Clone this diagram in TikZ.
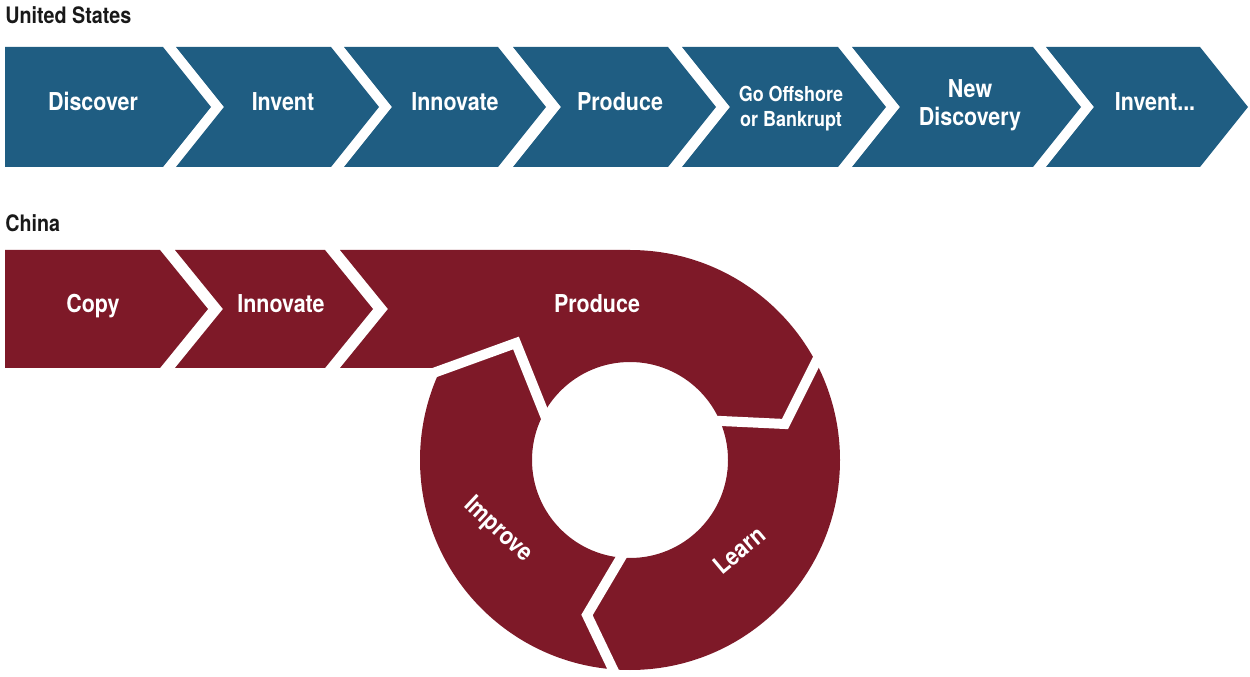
\documentclass[tikz,border=0pt]{standalone}
\usepackage{fontspec}
\setmainfont{TeX Gyre Heros}[FakeStretch=0.87]
\definecolor{usblue}{RGB}{31,93,130}
\definecolor{cnred}{RGB}{126,25,40}
\definecolor{headgray}{RGB}{25,25,25}

% chevron: #1 left x, #2 right x, #3 top y, #4 bottom y, #5 colour
\newcommand\ChevPath[5]{%
  \fill[#5] (#1,#3) -- (#2,#3) -- ({#2+48},{(#3+#4)/2}) -- (#2,#4) -- (#1,#4)
            -- ({#1+48},{(#3+#4)/2}) -- cycle;}
% first chevron of a row, flat on the left
\newcommand\ChevFirst[5]{%
  \fill[#5] (#1,#3) -- (#2,#3) -- ({#2+48},{(#3+#4)/2}) -- (#2,#4) -- (#1,#4) -- cycle;}

\begin{document}
\begin{tikzpicture}[x=0.75pt,y=-0.75pt,
  lbl/.style={text=white, font=\bfseries\fontsize{18.5}{21}\selectfont, inner sep=0pt, align=center},
  lblsmall/.style={lbl, font=\bfseries\fontsize{15.5}{18.75}\selectfont},
  head/.style={font=\bfseries\fontsize{17}{20}\selectfont, text=headgray, inner sep=0pt, anchor=base west},
  cut/.style={draw=white, line width=7.5pt, line join=miter, line cap=butt}]
\useasboundingbox (0,0) rectangle (1250,677);

% ---------- United States ----------
\node[head] (us) at (5,24) {United States};
\ChevFirst{5}{163}{47}{167}{usblue}
\ChevPath{176}{331}{47}{167}{usblue}
\ChevPath{344}{498}{47}{167}{usblue}
\ChevPath{513}{668}{47}{167}{usblue}
\ChevPath{682}{838}{47}{167}{usblue}
\ChevPath{852}{1033}{47}{167}{usblue}
\ChevPath{1046}{1200}{47}{167}{usblue}

\node[lbl, anchor=base] (us1) at (93,111) {Discover};
\node[lbl, anchor=base] (us2) at (283,111) {Invent};
\node[lbl, anchor=base] (us3) at (455,111) {Innovate};
\node[lbl, anchor=base] (us4) at (620,111) {Produce};
\node[lblsmall] (us5) at (791,109) {Go Offshore\\or Bankrupt};
\node[lbl] (us6) at (970,105) {New\\Discovery};
\node[lbl, anchor=base] (us7) at (1155,111) {Invent...};

% ---------- China ----------
\node[head] (cn) at (5,232) {China};
\ChevFirst{5}{160}{250}{368}{cnred}
\ChevPath{175}{325}{250}{368}{cnred}

% produce band joined to the ring
\fill[cnred] (340,250) -- (630,250) -- (630,355) -- (560,355) -- (560,368)
             -- (340,368) -- (388,309) -- cycle;
\fill[cnred, even odd rule] (630,460) circle[radius=210] (630,460) circle[radius=98];

% gaps between the ring segments
\draw[cut] (425,376) -- (516,343) -- (550,428);
\draw[cut] (826,342) -- (785,424) -- (700,420);
\draw[cut] (629,544) -- (587,615) -- (620,684);

\node[lbl, anchor=base] (cn1) at (93,313) {Copy};
\node[lbl, anchor=base] (cn2) at (281,313) {Innovate};
\node[lbl, anchor=base] (cn3) at (597,313) {Produce};
\node[lbl, rotate=-43] (cn4) at (498,530) {Improve};
\node[lbl, rotate=40] (cn5) at (739,550) {Learn};
\end{tikzpicture}
\end{document}
